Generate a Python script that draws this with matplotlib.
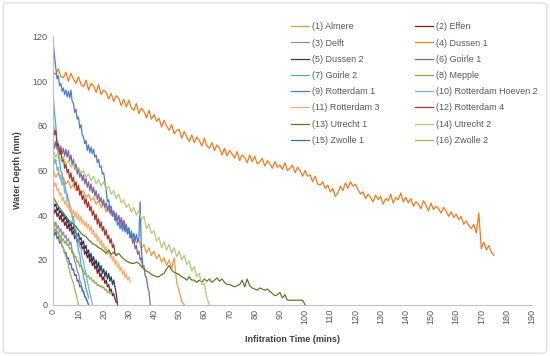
import numpy as np
import matplotlib
matplotlib.use("Agg")
import matplotlib.pyplot as plt
from matplotlib.patches import FancyBboxPatch

plt.rcParams['font.family'] = ['Liberation Sans', 'DejaVu Sans']

# ---------------- data ----------------
names = ["(1) Almere", "(2) Effen", "(3) Delft", "(4) Dussen 1", "(5) Dussen 2",
         "(6) Goirle 1", "(7) Goirle 2", "(8) Mepple", "(9) Rotterdam 1",
         "(10) Rotterdam Hoeven 2", "(11) Rotterdam 3", "(12) Rotterdam 4",
         "(13) Utrecht 1", "(14) Utrecht 2", "(15) Zwolle 1", "(16) Zwolle 2"]

# sampling interval (minutes) of each recorded series
sample_min = [1.0, 0.5, 0.5, 1.0, 0.5, 0.5, 0.5, 0.5, 0.5, 0.5, 0.5, 0.5, 1.0, 1.0, 0.5, 0.5]

almere = [60, 57, 59, 55.5, 57, 54, 55.5, 52, 54, 51,
          52.5, 49.5, 51, 48, 49.5, 46.5, 48, 45, 46.5, 43.5,
          45, 41.5, 43, 40, 41.5, 38, 39.5, 36, 38, 34.5,
          33, 30, 31, 27.5, 29, 25, 27, 23, 25.5, 22,
          24, 20.5, 22.5, 19, 21, 17.5, 20, 16, 21, 10,
          6, 1.5, 0]
effen = [44, 41, 42.5, 39.5, 41, 38, 40, 37, 38.5, 35.5, 37, 34, 36, 33, 34.5, 31.5,
         33, 29.5, 31, 28, 29.5, 26.5, 28, 25, 26, 22.5, 24, 21, 22.5, 19, 21, 17.5,
         19, 16, 17.5, 14, 16, 12.5, 14, 11, 12.5, 9.5, 11, 8, 9, 6, 7, 4, 5, 2.5, 1]
delft = [38, 35.5, 37, 34, 35.5, 32.5, 34, 31, 32.5, 30, 31, 28.5, 29.5, 27, 28, 24,
         22, 19.5, 18, 15, 14, 11, 9.5, 7, 6, 4, 3, 1.5, 0]
dussen1 = [104, 103, 105.5, 102, 101.5, 104, 100, 103.5, 101, 99,
           102, 98.5, 97.5, 100.5, 96, 99, 98, 95, 98.5, 94,
           96, 95, 92, 94.5, 91, 93.5, 92.5, 89, 92, 88.5,
           91.5, 88, 87, 90, 85.5, 88, 86.5, 83.5, 87, 83,
           85, 82, 83.5, 79.5, 82.5, 80, 78, 80.5, 76.5, 78,
           78.5, 74.5, 77.5, 75, 73, 76, 72.5, 75, 73.5, 71,
           74.5, 71, 70, 72.5, 69, 71.5, 70, 67, 70, 66.5,
           69, 67.5, 65.5, 68.5, 64.5, 67, 66, 63.5, 67, 64,
           66.5, 63, 64, 65.5, 62, 64.5, 63, 61, 64, 61.5,
           62.5, 60.5, 63.5, 60, 61, 62.5, 59, 61.5, 60, 57.5,
           60, 57.5, 58, 55, 57.5, 54, 53.5, 55, 52, 53.5,
           50.5, 52, 48.5, 50, 53, 51, 54.5, 52, 55, 53,
           54, 51.5, 49.5, 50.5, 47.5, 49.5, 48, 46, 49, 47,
           48.5, 45, 47.5, 46.5, 49.5, 45.5, 48, 47, 50, 46,
           48, 45.5, 47.5, 44, 46, 45, 43, 46.5, 44.5, 42,
           45.5, 42.5, 44, 43, 41, 43.5, 42, 39.5, 41.5, 39,
           40.5, 38, 39.5, 36, 37.5, 35.5, 34, 36, 32, 41,
           25, 28, 24.5, 26.5, 23.5, 22]
dussen2 = [46, 44, 45, 42, 43.5, 41, 42, 39.5, 41, 38, 39.5, 36.5, 38, 35, 36.5, 33.5,
           35, 32, 33.5, 30.5, 32, 29, 30, 27, 28.5, 25, 26.5, 23, 24.5, 21, 23, 19.5,
           21.5, 18, 20, 16.5, 19, 15, 17.5, 14, 16, 12.5, 15, 11.5, 14, 10.5, 12.5, 9,
           11, 8, 5, 0]
goirle1 = [74, 70, 73, 69.5, 72, 68, 71, 67.5, 70, 66.5,
           69.5, 66, 69, 64.5, 67, 62.5, 65, 60.5, 63, 58.5,
           61, 57, 59.5, 55.5, 58, 54, 56.5, 52.5, 55, 51,
           54, 50, 52.5, 48.5, 51, 47, 49.5, 46, 48, 44.5,
           47, 43.5, 45.5, 42, 44.5, 41, 43, 39.5, 42, 38.5,
           41, 37.5, 40, 36, 39, 35, 37.5, 33.5, 36, 32,
           34.5, 30, 32, 27.5, 29.5, 25, 26.5, 22.5, 24, 20,
           21, 17, 17.5, 13, 12, 8, 6, 0]
goirle2 = [93, 86, 80, 73, 67, 64, 60, 58.5, 55, 54, 50.5, 49.5, 46, 45, 41.5, 40,
           36, 34.5, 30, 28.5, 24, 22.5, 18, 16, 12, 10.5, 7, 5.5, 3]
mepple = [35, 33, 34, 31.5, 32.5, 30, 31, 28.5, 29.5, 27.5,
          28.5, 26.5, 27, 25, 25.5, 23, 23.5, 21, 21.5, 19,
          19.5, 17, 17.5, 15.5, 15.5, 13.5, 14, 12.5, 13, 11.5,
          12, 10.5, 11, 9.5, 10, 8.5, 9, 8, 8.5, 7.5,
          8, 6.5, 7, 5.5, 6, 5, 5.5]
rotterdam1 = [117, 111, 106, 101, 102.5, 98, 99, 95.5, 97, 94, 96, 93, 95.5, 92.5, 96, 91,
              90, 86, 87.5, 83, 84, 79, 80.5, 76, 75, 72, 73.5, 69, 71.5, 68, 70.5, 67.5,
              69.5, 66, 67, 63.5, 65, 61.5, 62, 58.5, 59, 55, 51, 46, 47, 43, 44, 40.5,
              41, 37.5, 39, 35.5, 37, 34, 36, 33, 35.5, 32.5, 34.5, 31.5, 34, 30,
              33, 29.5, 32, 28.5, 31.5, 28, 30, 46, 24, 18]
rotterdam_hoeven2 = [68, 63, 65, 60, 61.5, 57, 58, 53.5, 55, 50, 51, 46.5, 47.5, 43, 43.5, 39,
                     39.5, 35, 35, 30.5, 30, 26, 25, 21, 19.5, 16, 14, 10.5, 8, 5, 3, 0]
rotterdam3 = [56, 53, 54.5, 51, 52, 49, 50, 46.5, 48, 45,
              46.5, 43.5, 45, 42, 43.5, 40, 42.5, 39, 41.5, 38,
              40.5, 37, 39.5, 36, 38, 35, 37, 34, 36, 33,
              35, 31.5, 33.5, 30, 32, 28.5, 30.5, 27, 29, 25.5,
              27.5, 24, 26, 22.5, 24.5, 21, 23, 19.5, 21.5, 18,
              20, 16.5, 18.5, 15, 17, 13.5, 15.5, 12, 14, 11,
              12.5, 10]
rotterdam4 = [81, 76, 78, 71, 72, 67, 69, 64, 66, 61, 63, 59, 60.5, 56.5, 59, 55, 57, 53,
              55, 51, 53.5, 49, 51, 47, 49, 45, 47.5, 43.5, 46, 42, 44, 40, 42, 38, 40.5,
              36, 38.5, 34.5, 37, 33, 35, 31, 33.5, 29.5, 31, 27.5, 29.5, 25.5, 27, 23, 22]
utrecht1 = [48, 46, 44, 42.5, 41, 39.5, 38, 37, 36, 35,
            33.5, 32, 31, 30.5, 29, 28, 27, 26.5, 25.5, 25,
            24, 23, 24.5, 22.5, 23.5, 22, 23, 21.5, 20.5, 19.5,
            19, 18.5, 18.5, 19, 18.5, 17, 16, 15, 14.5, 13.5,
            13, 12.5, 12.5, 13.5, 14, 16, 17.5, 15.5, 14.5, 14,
            13.5, 12.5, 12, 11, 12.5, 11, 11, 10, 11, 10,
            11.5, 10.5, 11.5, 10, 11, 12, 10.5, 11.5, 10, 9,
            9, 8.5, 8, 8.5, 9, 11, 8, 11.5, 8.5, 7.5,
            7, 6.5, 7.5, 7, 6.5, 7, 6, 5, 4, 4.5,
            5.5, 3, 4.5, 2, 2, 2, 2, 2, 2, 2,
            0]
utrecht2 = [69, 66, 68, 64.5, 66, 63, 64.5, 61.5, 63, 60,
            61.5, 58.5, 60, 57, 58.5, 55.5, 57.5, 54, 56, 53,
            55, 51.5, 53, 49.5, 51, 47.5, 49.5, 45.5, 47, 43.5,
            45, 41.5, 43.5, 40, 42, 38, 39.5, 34, 36, 32,
            33, 28.5, 30, 25.5, 28, 24.5, 27, 23, 25.5, 21.5,
            24, 20, 22, 18, 19.5, 15, 17, 12.5, 14, 9,
            9.5, 3, 0]
zwolle1 = [34, 31, 32.5, 29.5, 30.5, 27.5, 28.5, 26, 25.5, 23, 23.5, 20.5, 21, 18, 18.5,
           15.5, 16, 13, 13.5, 10.5, 11, 8, 8.5, 6, 6, 3.5, 3, 1.5, 0]
zwolle2 = [37, 35, 35.5, 33, 32, 30, 28.5, 26.5, 25, 23, 21.5, 19.5, 17.5, 15, 13, 11,
           9.5, 7, 5, 2.5, 0]

series = [almere, effen, delft, dussen1, dussen2, goirle1, goirle2, mepple, rotterdam1,
          rotterdam_hoeven2, rotterdam3, rotterdam4, utrecht1, utrecht2, zwolle1, zwolle2]

colors = ["#F79646", "#7B1F1F", "#9E82C4", "#F47A1F", "#1F3F6E", "#8064A2", "#4BACC6",
          "#86AE48", "#4A7EC4", "#7FAEE0", "#FAAE6E", "#A8342F", "#5E7B2B", "#AECB7A",
          "#3F6DB5", "#9BBB59"]

x_ticks = list(range(0, 191, 10))
y_ticks = list(range(0, 121, 20))

# ---------------- figure ----------------
fig = plt.figure(figsize=(5.5, 3.56), dpi=100)
border = FancyBboxPatch((0.006, 0.008), 0.988, 0.984, boxstyle="round,pad=0,rounding_size=0.01",
                        transform=fig.transFigure, facecolor="white", edgecolor="#D9D9D9",
                        linewidth=0.8, zorder=-10)
fig.patches.append(border)

ax = fig.add_axes([0.0969, 0.1441, 0.8698, 0.7534])
ax.set_facecolor("none")

handles = []
for name, ys, dt, c in zip(names, series, sample_min, colors):
    t = np.arange(len(ys)) * dt
    h, = ax.plot(t, ys, color=c, lw=0.9, label=name)
    handles.append(h)

ax.set_xlim(0, 190)
ax.set_ylim(0, 120)
ax.set_xticks(x_ticks)
ax.set_yticks(y_ticks)
ax.tick_params(axis='both', length=0, labelsize=6.5, colors="#595959")
ax.tick_params(axis='x', labelrotation=90, pad=3)
ax.tick_params(axis='y', pad=4)
for s in ["top", "right"]:
    ax.spines[s].set_visible(False)
for s in ["left", "bottom"]:
    ax.spines[s].set_color("#BFBFBF")
    ax.spines[s].set_linewidth(0.8)

ax.set_xlabel("Infitration Time (mins)", fontsize=6.5, fontweight="bold", color="#404040", labelpad=8)
ax.set_ylabel("Water Depth (mm)", fontsize=6.5, fontweight="bold", color="#404040", labelpad=8)

# legend filled row by row (1,2 / 3,4 / ...)
order = list(range(0, 16, 2)) + list(range(1, 16, 2))
leg = fig.legend([handles[i] for i in order], [names[i] for i in order],
                 loc="upper left", bbox_to_anchor=(0.515, 0.96), ncol=2, frameon=False,
                 fontsize=6.5, handlelength=2.0, handletextpad=0.3, columnspacing=3.9,
                 labelspacing=0.80, labelcolor="#595959")

fig.savefig("out.png", dpi=100)
